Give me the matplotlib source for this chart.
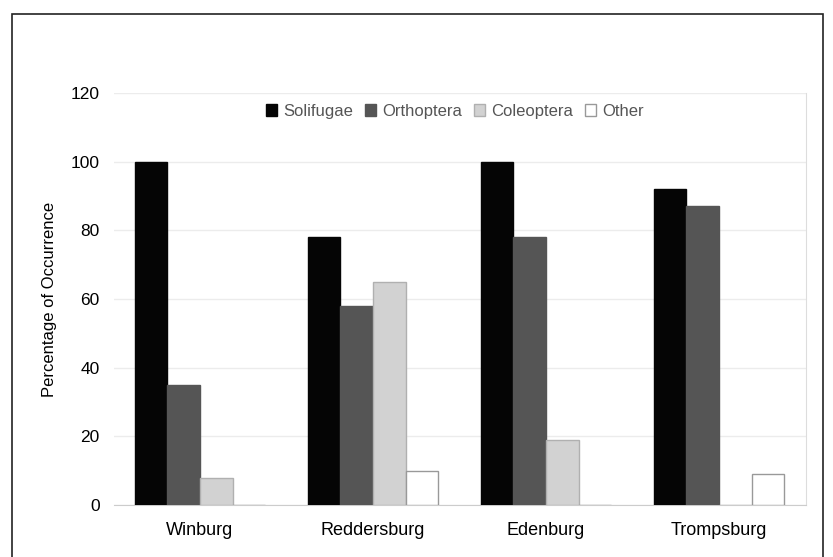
import matplotlib
matplotlib.use("Agg")
import matplotlib.pyplot as plt
import numpy as np
from matplotlib.patches import Rectangle

plt.rcParams['font.family'] = ['Liberation Sans', 'DejaVu Sans']

sites = ["Winburg", "Reddersburg", "Edenburg", "Trompsburg"]
series_names = ["Solifugae", "Orthoptera", "Coleoptera", "Other"]
solifugae = [100, 78, 100, 92]
orthoptera = [35, 58, 78, 87]
coleoptera = [8, 65, 19, 0]
other = [0, 10, 0, 9]
yticks = [0, 20, 40, 60, 80, 100, 120]

values = [solifugae, orthoptera, coleoptera, other]
faces = ["#050505", "#555555", "#d2d2d2", "#ffffff"]
edges = ["#050505", "#555555", "#b0b0b0", "#999999"]

W, H = 833, 557
fig = plt.figure(figsize=(W / 100, H / 100), dpi=100)
fig.patch.set_facecolor("white")

# figure frame
fig.add_artist(Rectangle((12 / W, -0.01), (823 - 12) / W, 1 - 14 / H + 0.01,
                         transform=fig.transFigure, fill=False,
                         edgecolor="#222222", linewidth=1.2))

left, right = 113.5 / W, 805.5 / W
bottom, top = 1 - 505 / H, 1 - 93 / H
ax = fig.add_axes([left, bottom, right - left, top - bottom])

x = np.arange(len(sites))
bw = 0.188
for i, (vals, fc, ec) in enumerate(zip(values, faces, edges)):
    ax.bar(x + (i - 1.5) * bw, vals, width=bw, color=fc, edgecolor=ec,
           linewidth=1.0, label=series_names[i], zorder=3)

ax.set_xlim(-0.5, len(sites) - 0.5)
ax.set_ylim(0, 120)
ax.set_yticks(yticks)
ax.set_yticklabels([str(t) for t in yticks], fontsize=12.5)
ax.set_xticks(x)
ax.set_xticklabels(sites, fontsize=13)
ax.tick_params(axis="both", length=0, pad=10)
ax.tick_params(axis="x", pad=12)
ax.grid(axis="y", color="#ececec", linewidth=1, zorder=0)
for s in ["top", "left"]:
    ax.spines[s].set_visible(False)
ax.spines["right"].set_color("#dddddd")
ax.spines["bottom"].set_color("#cccccc")
ax.set_ylabel("Percentage of Occurrence", fontsize=12, labelpad=10)

leg = ax.legend(loc="center", bbox_to_anchor=(0.493, 0.955), ncol=4,
                frameon=False, fontsize=12, handlelength=0.7,
                handleheight=0.7, handletextpad=0.35, columnspacing=0.7)
for t in leg.get_texts():
    t.set_color("#555555")

fig.savefig("out.png", dpi=100)
